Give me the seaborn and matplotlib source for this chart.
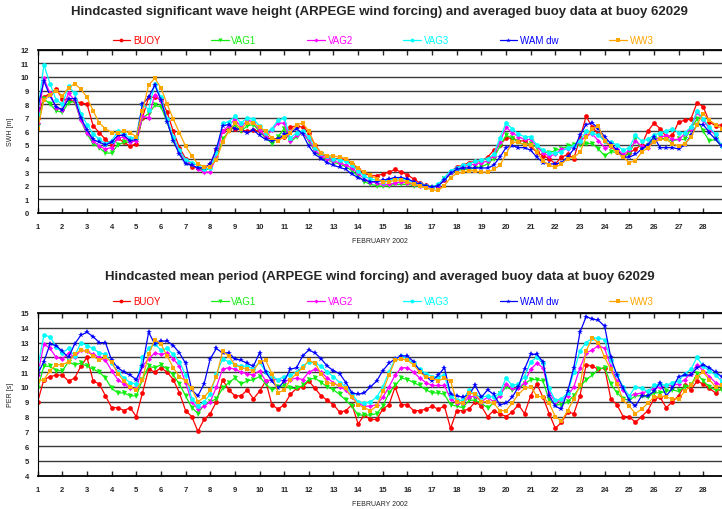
import numpy as np
import pandas as pd
import matplotlib
matplotlib.use("Agg")
import matplotlib.pyplot as plt
from matplotlib.lines import Line2D
import seaborn as sns

sns.set_style("white")
plt.rcParams["font.family"] = ["Liberation Sans", "DejaVu Sans"]

# 6-hourly values, 1 Feb 00h -> 28 Feb 18h  (112 samples)
days = 1 + 0.25 * np.arange(112)

names   = ["BUOY", "VAG1", "VAG2", "VAG3", "WAM dw", "WW3"]
colors  = {"BUOY": "#ff0000", "VAG1": "#11ee11", "VAG2": "#ff00ff",
           "VAG3": "#00ffff", "WAM dw": "#0000ff", "WW3": "#ffa500"}
markers = {"BUOY": "o", "VAG1": "v", "VAG2": "D",
           "VAG3": "o", "WAM dw": "*", "WW3": "s"}
msizes  = {"BUOY": 3.4, "VAG1": 3.6, "VAG2": 2.6,
           "VAG3": 3.4, "WAM dw": 4.2, "WW3": 3.2}

# ── significant wave height [m] ─────────────────────────
swh_buoy = [7.0, 8.5, 8.8, 9.1, 8.4, 8.3, 8.2, 8.1, 8.0, 6.4, 5.9, 5.4, 5.0, 5.5, 5.2, 4.9, 5.1, 7.0, 8.5, 8.5, 8.4, 7.4, 6.0, 4.8, 4.0,
            3.4, 3.3, 3.3, 3.6, 4.6, 6.0, 6.2, 6.2, 6.1, 6.0, 6.1, 6.0, 5.6, 5.4, 5.5, 5.6, 6.3, 6.4, 6.3, 5.9, 5.0, 4.4, 4.1, 4.0, 4.0, 3.9, 3.6, 3.2,
            2.9, 2.75, 2.75, 2.85, 3.0, 3.2, 3.0, 2.8, 2.5, 2.2, 2.05, 1.9, 2.0, 2.4, 3.0, 3.4, 3.5, 3.7, 3.8, 3.85, 4.1, 4.6, 5.0, 5.5, 5.5, 5.3, 5.3, 4.9, 4.45, 4.2, 4.0,
            3.6, 4.1, 4.3, 4.0, 5.5, 7.1, 6.3, 5.8, 5.3, 4.9, 4.5, 4.2, 4.4, 4.7, 5.0, 6.0, 6.6, 6.2, 5.6, 5.7, 6.7, 6.8, 6.9, 8.1, 7.8, 6.7, 6.4, 6.5]
swh_vag1 = [6.4, 8.4, 8.0, 7.5, 7.4, 8.1, 8.2, 6.8, 5.8, 5.1, 4.8, 4.4, 4.4, 5.0, 5.2, 5.2, 5.3, 7.0, 7.3, 7.9, 7.8, 6.7, 5.3, 4.4, 3.7,
            3.5, 3.3, 3.1, 3.3, 4.0, 5.4, 6.0, 6.5, 6.0, 6.4, 6.5, 6.0, 5.5, 5.1, 5.6, 6.2, 5.2, 5.6, 5.9, 5.3, 4.5, 4.1, 3.9, 3.7, 3.6, 3.4, 3.1, 2.7,
            2.3, 2.1, 2.0, 1.95, 2.0, 2.1, 2.1, 2.1, 2.0, 1.95, 1.9, 1.85, 2.0, 2.5, 2.9, 3.1, 3.2, 3.2, 3.3, 3.4, 3.6, 4.0, 4.9, 5.7, 5.5, 5.2, 5.0, 5.1, 4.8, 4.5, 4.4,
            4.6, 4.7, 4.9, 5.0, 5.0, 5.1, 5.1, 4.7, 4.2, 4.5, 4.45, 4.2, 4.3, 5.4, 4.7, 4.9, 5.4, 5.55, 5.4, 5.3, 5.4, 5.4, 6.2, 6.9, 6.0, 5.3, 5.4, 4.9]
swh_vag2 = [6.6, 9.9, 8.8, 7.7, 7.6, 8.8, 8.3, 6.8, 5.9, 5.3, 4.9, 4.7, 4.8, 5.5, 5.6, 5.2, 5.3, 7.1, 7.0, 8.7, 8.2, 6.8, 5.5, 4.5, 3.8,
            3.6, 3.2, 3.0, 3.0, 4.2, 6.0, 6.4, 6.9, 6.3, 6.8, 6.7, 6.1, 5.6, 6.1, 6.6, 6.6, 5.3, 5.7, 5.9, 5.4, 4.6, 4.2, 4.0, 3.8, 3.7, 3.5, 3.3, 2.9,
            2.5, 2.3, 2.2, 2.1, 2.1, 2.2, 2.3, 2.2, 2.1, 2.0, 1.9, 1.85, 2.0, 2.5, 3.0, 3.2, 3.4, 3.5, 3.6, 3.7, 3.8, 4.2, 5.2, 6.3, 5.9, 5.6, 5.4, 5.4, 4.9, 4.4, 4.2,
            4.3, 4.7, 4.7, 4.9, 5.2, 5.7, 5.8, 5.3, 4.8, 4.9, 4.7, 4.3, 4.6, 5.3, 4.9, 4.8, 5.3, 5.55, 5.7, 5.4, 5.4, 5.8, 6.2, 7.4, 6.8, 6.2, 5.7, 4.9]
swh_vag3 = [7.3, 10.9, 9.5, 8.3, 8.0, 9.3, 8.8, 7.3, 6.5, 5.8, 5.4, 5.1, 5.3, 6.0, 5.8, 5.5, 5.6, 8.0, 7.6, 9.5, 8.5, 6.9, 5.6, 4.6, 3.9,
            3.7, 3.5, 3.2, 3.3, 4.4, 6.6, 6.7, 7.1, 6.6, 7.0, 6.9, 6.4, 5.9, 6.2, 6.8, 7.0, 5.5, 5.9, 6.0, 5.6, 4.8, 4.4, 4.2, 4.0, 3.9, 3.8, 3.5, 3.1,
            2.7, 2.5, 2.4, 2.3, 2.4, 2.5, 2.5, 2.4, 2.2, 2.1, 2.0, 1.9, 2.1, 2.6, 3.1, 3.3, 3.5, 3.6, 3.8, 3.9, 4.0, 4.3, 5.5, 6.6, 6.2, 5.8, 5.6, 5.6, 5.0, 4.6, 4.4,
            4.4, 4.5, 4.8, 4.9, 5.3, 6.0, 5.9, 5.7, 5.3, 5.2, 5.0, 4.6, 4.8, 5.7, 5.3, 5.4, 5.7, 5.9, 6.0, 6.2, 5.9, 5.9, 6.3, 7.5, 6.9, 6.3, 5.8, 4.9]
swh_wam  = [7.7, 9.7, 8.6, 7.8, 7.6, 8.4, 8.4, 7.0, 6.1, 5.4, 5.2, 5.0, 5.2, 5.7, 5.7, 5.3, 5.4, 8.0, 8.5, 9.4, 8.3, 6.7, 5.3, 4.3, 3.6,
            3.5, 3.3, 3.3, 3.6, 4.7, 6.4, 6.5, 6.2, 6.1, 5.9, 6.1, 5.7, 5.4, 5.3, 5.4, 5.8, 5.9, 6.2, 5.8, 4.9, 4.3, 4.0, 3.7, 3.5, 3.35, 3.2, 2.85, 2.6,
            2.4, 2.3, 2.3, 2.4, 2.5, 2.6, 2.6, 2.5, 2.3, 2.1, 2.0, 1.9, 2.0, 2.4, 2.9, 3.2, 3.3, 3.3, 3.3, 3.3, 3.3, 3.5, 4.1, 4.8, 4.95, 4.8, 4.8, 4.6, 4.1, 3.7, 3.6,
            3.6, 3.7, 4.1, 4.7, 5.7, 6.5, 6.6, 6.2, 5.6, 5.1, 4.6, 4.1, 4.1, 4.3, 4.7, 5.0, 5.6, 4.8, 4.8, 4.8, 4.7, 5.0, 5.7, 6.5, 6.5, 5.9, 5.4, 4.9]
swh_ww3  = [6.2, 8.3, 8.7, 9.0, 8.6, 9.2, 9.5, 9.1, 8.5, 7.5, 6.6, 6.2, 5.9, 5.9, 6.0, 5.9, 5.6, 7.5, 9.4, 9.9, 9.2, 8.0, 6.9, 5.9, 4.9,
            4.2, 3.6, 3.4, 3.4, 3.9, 5.2, 6.0, 6.6, 6.2, 6.6, 6.6, 6.3, 6.0, 5.5, 5.3, 5.6, 5.9, 6.5, 6.6, 6.0, 5.0, 4.4, 4.2, 4.2, 4.1, 4.0, 3.7, 3.3,
            3.0, 2.8, 2.5, 2.3, 2.3, 2.4, 2.4, 2.3, 2.1, 2.0, 1.85, 1.7, 1.65, 2.0, 2.6, 2.9, 3.0, 3.1, 3.1, 3.0, 3.0, 3.2, 3.5, 4.3, 5.2, 5.2, 5.0, 5.0, 4.5, 3.8, 3.5,
            3.35, 3.6, 4.0, 4.1, 4.45, 5.55, 6.2, 6.36, 5.3, 4.9, 4.45, 4.1, 3.7, 3.85, 4.45, 4.8, 5.2, 5.4, 5.4, 5.1, 4.9, 5.1, 5.55, 6.5, 7.3, 6.8, 6.5, 6.2]

# ── mean period [s] ─────────────────────────────────────
per_buoy = [9.0, 10.5, 10.7, 10.8, 10.8, 10.4, 10.6, 11.4, 12.0, 10.4, 10.2, 9.4, 8.6, 8.6, 8.4, 8.6, 8.0, 9.6, 11.2, 11.0, 11.3, 11.0, 10.5, 9.6, 8.4,
            8.0, 7.0, 7.8, 8.2, 9.0, 10.5, 9.8, 9.4, 9.4, 9.8, 9.2, 9.7, 10.4, 8.8, 8.5, 8.8, 9.5, 9.9, 10.0, 10.4, 9.9, 9.4, 9.1, 8.8, 8.3, 8.4, 8.8, 7.5,
            8.1, 7.8, 7.8, 8.5, 8.8, 10.0, 8.8, 8.8, 8.4, 8.4, 8.5, 8.7, 8.5, 8.7, 7.2, 8.4, 8.4, 8.5, 9.0, 8.7, 8.0, 8.4, 8.2, 8.0, 8.3, 8.8, 8.2, 9.4, 10.2, 9.3, 8.2,
            7.2, 7.6, 8.3, 8.2, 9.4, 11.5, 11.4, 11.2, 11.3, 9.2, 8.8, 8.0, 8.0, 7.6, 8.0, 8.4, 9.2, 9.3, 8.6, 9.0, 9.4, 10.1, 9.8, 10.4, 10.2, 9.9, 9.6, 9.9]
per_vag1 = [9.9, 11.4, 11.4, 11.1, 11.1, 11.7, 11.5, 11.6, 11.4, 11.2, 11.0, 10.6, 9.9, 9.6, 9.6, 9.4, 9.4, 10.5, 11.4, 11.3, 11.5, 11.2, 10.8, 10.2, 9.4,
            8.6, 8.2, 8.8, 9.0, 9.2, 9.9, 10.3, 10.6, 10.2, 10.4, 10.5, 10.7, 10.2, 9.8, 10.0, 10.1, 9.9, 9.9, 10.1, 10.5, 10.6, 10.3, 10.0, 9.8, 9.5, 9.1, 8.7, 8.1,
            8.1, 8.1, 8.2, 8.7, 9.6, 10.1, 10.6, 10.5, 10.3, 10.1, 9.8, 9.6, 9.6, 9.5, 8.8, 8.7, 8.6, 9.1, 9.1, 8.9, 8.6, 8.9, 9.5, 10.0, 9.8, 9.9, 10.2, 10.5, 10.5, 10.4, 9.1,
            8.8, 8.8, 9.0, 9.4, 10.0, 10.5, 10.8, 11.2, 11.3, 10.2, 9.6, 9.2, 9.1, 9.4, 9.4, 9.3, 9.6, 9.6, 9.7, 9.8, 9.7, 10.0, 10.1, 10.9, 10.4, 10.0, 9.8, 9.8]
per_vag2 = [10.8, 12.9, 12.6, 12.0, 11.9, 12.3, 12.0, 12.5, 12.4, 12.2, 12.0, 11.8, 11.1, 10.5, 10.2, 9.9, 9.9, 11.4, 11.9, 12.3, 12.2, 12.3, 11.9, 11.4, 10.3,
            9.0, 8.5, 8.7, 9.0, 10.0, 11.2, 11.3, 11.2, 11.0, 10.9, 10.8, 11.1, 10.4, 10.5, 10.5, 10.4, 10.5, 10.6, 10.5, 11.0, 11.2, 11.0, 10.6, 10.3, 10.0, 9.8, 9.3, 8.9,
            8.7, 8.7, 8.8, 9.3, 10.0, 10.8, 11.3, 11.3, 11.0, 10.6, 10.3, 10.1, 10.1, 10.1, 9.2, 8.9, 8.9, 9.3, 9.4, 9.0, 9.3, 9.0, 9.4, 10.2, 9.9, 9.9, 10.3, 11.2, 11.6, 11.3, 9.6,
            9.0, 9.1, 9.4, 10.0, 11.3, 12.3, 12.5, 12.8, 12.6, 11.4, 10.4, 9.8, 9.4, 9.5, 9.6, 9.7, 9.9, 10.0, 10.1, 10.1, 10.2, 10.5, 10.9, 11.5, 11.1, 10.7, 10.3, 10.1]
per_vag3 = [11.3, 13.5, 13.4, 12.7, 12.3, 12.6, 12.1, 13.0, 12.8, 12.6, 12.3, 12.2, 11.6, 11.0, 10.6, 10.3, 10.2, 12.0, 12.6, 12.9, 12.5, 12.6, 12.2, 11.7, 10.8,
            9.2, 8.7, 9.0, 9.5, 10.9, 11.9, 11.7, 11.5, 11.4, 11.4, 11.2, 11.7, 11.0, 10.7, 10.5, 10.7, 10.8, 11.0, 11.4, 11.7, 11.6, 11.4, 11.0, 10.7, 10.3, 10.0, 9.5, 9.0,
            8.9, 9.0, 9.3, 10.0, 11.0, 11.9, 12.1, 11.9, 11.6, 11.2, 10.9, 10.7, 10.7, 10.8, 9.4, 9.1, 9.1, 9.8, 9.5, 9.3, 9.4, 9.3, 9.6, 10.6, 10.1, 10.2, 10.7, 11.7, 12.0, 11.6, 9.9,
            9.1, 9.2, 9.6, 11.0, 12.45, 13.0, 13.3, 13.3, 13.2, 11.8, 10.8, 10.0, 9.4, 10.0, 9.9, 9.7, 10.1, 10.2, 10.1, 10.3, 10.4, 10.9, 11.2, 12.0, 11.4, 11.1, 10.8, 10.4]
per_wam  = [10.9, 11.7, 12.9, 12.8, 12.4, 12.0, 12.9, 13.5, 13.7, 13.4, 13.0, 13.0, 11.8, 11.3, 11.0, 10.8, 10.5, 11.4, 13.7, 12.9, 13.1, 13.1, 12.8, 12.3, 11.6,
            9.8, 9.4, 10.2, 11.9, 12.6, 12.3, 12.3, 11.9, 11.8, 11.6, 11.4, 12.3, 11.0, 10.4, 9.9, 10.4, 11.2, 11.3, 12.1, 12.5, 12.3, 11.9, 11.4, 11.1, 10.9, 10.3, 9.6, 9.5,
            9.6, 10.0, 10.4, 11.1, 11.6, 11.9, 12.1, 12.1, 11.7, 11.1, 10.7, 10.4, 10.8, 11.3, 9.5, 9.4, 9.3, 9.5, 10.1, 9.3, 9.8, 9.5, 8.8, 8.9, 9.3, 10.0, 11.2, 12.2, 12.2, 11.7, 9.4,
            8.7, 8.5, 9.7, 11.3, 13.7, 14.75, 14.6, 14.5, 14.1, 12.0, 10.8, 9.9, 9.1, 8.7, 9.4, 9.4, 9.7, 10.3, 9.4, 9.9, 10.7, 10.8, 10.8, 11.3, 11.5, 11.3, 11.0, 10.7]
per_ww3  = [10.4, 10.5, 11.1, 11.5, 11.5, 11.7, 12.2, 12.5, 12.4, 12.1, 11.8, 12.0, 11.7, 10.9, 10.4, 10.0, 9.8, 10.5, 12.2, 13.2, 12.9, 12.1, 11.3, 10.7, 10.4,
            9.9, 9.0, 9.3, 9.8, 10.7, 12.4, 12.1, 11.5, 11.3, 11.2, 11.1, 11.7, 11.8, 10.9, 9.6, 9.8, 10.5, 10.9, 11.3, 11.8, 11.6, 10.9, 10.3, 10.2, 10.1, 9.9, 9.3, 8.8,
            8.6, 8.4, 8.7, 9.7, 10.8, 11.8, 11.9, 11.8, 11.5, 11.0, 10.7, 10.6, 10.4, 10.6, 10.4, 9.0, 8.9, 9.6, 9.5, 9.0, 9.0, 8.9, 8.4, 8.4, 8.9, 9.5, 9.9, 10.0, 9.4, 9.3, 8.9,
            8.0, 7.7, 8.4, 9.2, 10.1, 12.45, 13.3, 13.0, 12.0, 11.2, 10.2, 9.1, 8.7, 8.2, 8.5, 8.9, 9.3, 9.4, 9.3, 9.2, 9.2, 9.7, 10.1, 10.7, 11.0, 10.5, 10.0, 10.1]

swh = dict(zip(names, [swh_buoy, swh_vag1, swh_vag2, swh_vag3, swh_wam, swh_ww3]))
per = dict(zip(names, [per_buoy, per_vag1, per_vag2, per_vag3, per_wam, per_ww3]))

W, H = 722, 510
fig = plt.figure(figsize=(W / 100, H / 100), dpi=100)
ax_h = fig.add_axes([37.7 / W, 1 - 213.9 / H, 684 / W, 163.2 / H])
ax_p = fig.add_axes([37.7 / W, 1 - 476.7 / H, 684 / W, 162.7 / H])


def panel(ax, series, ylo, yhi, ylabel):
    for n in names:
        df = pd.DataFrame({"day": days, "value": series[n]})
        sns.lineplot(data=df, x="day", y="value", ax=ax, color=colors[n],
                     marker=markers[n], markersize=msizes[n],
                     markeredgewidth=0, lw=0.9, sort=False, legend=False)
    ax.set_xlim(1, 28.75)
    ax.set_ylim(ylo, yhi)
    ax.set_xticks(range(1, 29))
    ax.set_yticks(range(ylo, yhi + 1))
    ax.yaxis.grid(True, color="#3a3a3a", lw=1.0)
    ax.xaxis.grid(False)
    ax.tick_params(axis="x", which="both", direction="in", top=True,
                   bottom=True, length=3.5, width=1, labelsize=5.5, pad=7.5)
    ax.tick_params(axis="y", direction="out", length=2.5, width=0.8,
                   labelsize=5.5, pad=4)
    for lab in ax.get_xticklabels() + ax.get_yticklabels():
        lab.set_fontweight("bold")
    ax.spines["right"].set_visible(False)
    for s in ["left", "top", "bottom"]:
        ax.spines[s].set_color("black")
    ax.spines["top"].set_linewidth(1.3)
    ax.spines["bottom"].set_linewidth(1.3)
    ax.set_xlabel("FEBRUARY 2002", fontsize=5)
    ax.xaxis.set_label_coords(0.5, -0.15)
    ax.set_ylabel(ylabel, fontsize=5)
    ax.yaxis.set_label_coords(-0.035, 0.5)


panel(ax_h, swh, 0, 12, "SWH [m]")
panel(ax_p, per, 4, 15, "PER [s]")

fig.text(0.526, 1 - 15.5 / H,
         "Hindcasted significant wave height (ARPEGE wind forcing) and averaged buoy data at buoy 62029",
         ha="center", va="baseline", fontsize=9.5, fontweight="bold")
fig.text(0.526, 1 - 280 / H,
         "Hindcasted mean period (ARPEGE wind forcing) and averaged buoy data at buoy 62029",
         ha="center", va="baseline", fontsize=9.5, fontweight="bold")

handles = [Line2D([], [], color=colors[n], marker=markers[n], lw=0.9,
                  markersize=msizes[n] * 0.8, markeredgewidth=0) for n in names]
for ypix in (41, 302):
    fig.legend(handles, names, loc="center", bbox_to_anchor=(383 / W, 1 - ypix / H),
               ncol=6, frameon=False, fontsize=7, handlelength=1.8,
               handletextpad=0.3, columnspacing=5.2, labelcolor="linecolor",
               borderaxespad=0, borderpad=0)

fig.savefig("out.png", dpi=100)
